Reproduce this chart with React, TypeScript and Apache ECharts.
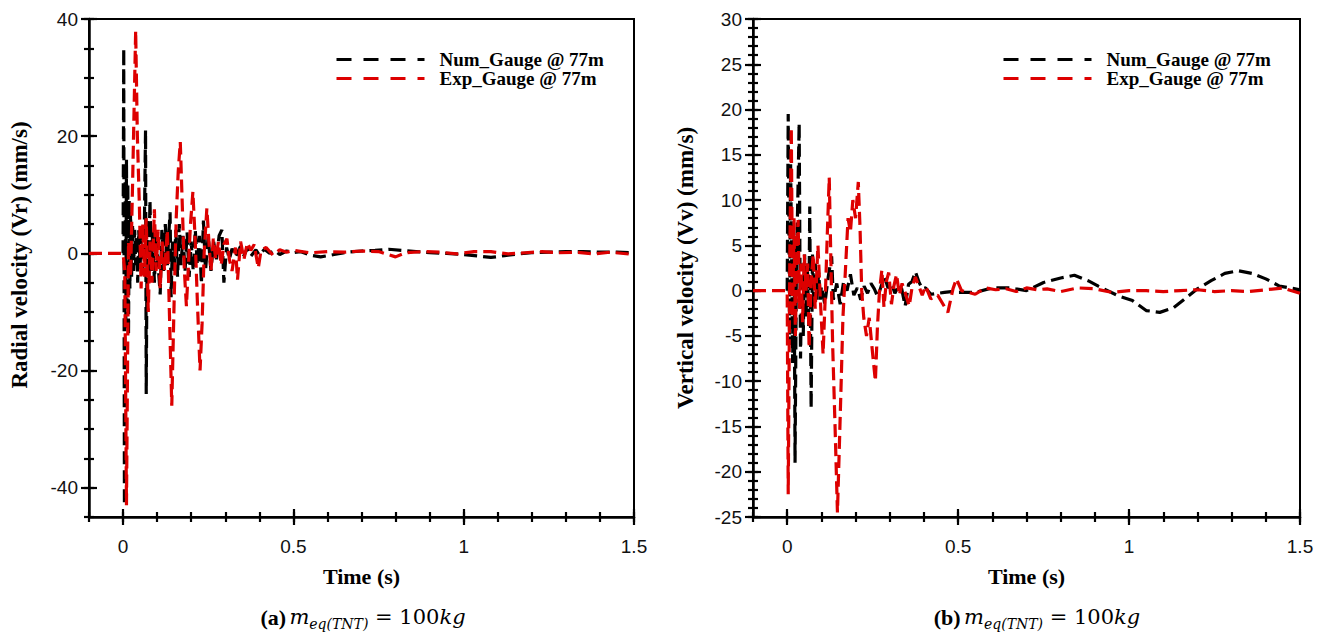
import React, { useEffect, useRef } from "react";
import * as echarts from "echarts";

// ---------- data ----------
const legendNames = ["Num_Gauge @ 77m", "Exp_Gauge @ 77m"];
const xMajorTicks = [0, 0.5, 1, 1.5];
const yMajorTicksA = [-40, -20, 0, 20, 40];
const rightBorderTickB = [0];

// (a) radial velocity, numerical
const numTimeA = [0.0, 0.002, 0.004, 0.006, 0.008, 0.01, 0.012, 0.014, 0.016, 0.018, 0.02, 0.022, 0.025, 0.028, 0.031, 0.034, 0.037, 0.04, 0.043, 0.046, 0.05, 0.054, 0.058, 0.062, 0.066, 0.068, 0.071, 0.075, 0.079, 0.083, 0.087, 0.092, 0.097, 0.103, 0.109, 0.114, 0.119, 0.124, 0.13, 0.134, 0.138, 0.141, 0.145, 0.15, 0.155, 0.16, 0.165, 0.17, 0.176, 0.182, 0.188, 0.194, 0.2, 0.206, 0.212, 0.218, 0.224, 0.23, 0.236, 0.242, 0.25, 0.258, 0.266, 0.274, 0.282, 0.29, 0.296, 0.304, 0.312, 0.32, 0.33, 0.345, 0.355, 0.365, 0.375, 0.39, 0.4, 0.415, 0.43, 0.445, 0.46, 0.48, 0.5, 0.52, 0.55, 0.58, 0.62, 0.66, 0.7, 0.74, 0.78, 0.82, 0.86, 0.9, 0.95, 1.0, 1.05, 1.08, 1.12, 1.16, 1.2, 1.25, 1.3, 1.35, 1.4, 1.45, 1.5];
const numVelA = [0, 35, -43, 14, -13, 16, -9, 12, -14, 9, -6, 7, -4, 5, -3, 4, -2, 3, -5, 4, -2, 3, -3, 2, 21, -24, 6, -4, 9, -3, 4, -5, 3, -2, -7, 4, -3, 5, -2, 3, 7, -7.5, 2, -3, 4, -4, 5, -2, 3, -3, 3.6, -4, 2, -3, 4, -2, 3, -5.2, 5.6, -3, 3, -3, 2, -1, 3, 4, -5, 1, -1, 0.8, -0.6, 1.2, -0.4, 0.9, -0.5, 0.6, -0.3, 0.7, 0, 0.5, -0.2, 0.4, 0.1, 0.3, -0.3, -0.6, -0.2, 0.2, 0.4, 0.5, 0.7, 0.5, 0.3, 0.1, 0, -0.2, -0.5, -0.7, -0.4, -0.1, 0.1, 0.2, 0.3, 0.3, 0.2, 0.2, 0.1];

// (a) radial velocity, experimental
const expTimeA = [-0.1, 0.0, 0.005, 0.01, 0.016, 0.022, 0.028, 0.037, 0.042, 0.048, 0.053, 0.058, 0.063, 0.068, 0.074, 0.079, 0.085, 0.092, 0.097, 0.103, 0.109, 0.115, 0.122, 0.13, 0.136, 0.143, 0.15, 0.156, 0.162, 0.168, 0.174, 0.18, 0.186, 0.192, 0.198, 0.205, 0.212, 0.218, 0.226, 0.232, 0.238, 0.246, 0.252, 0.258, 0.265, 0.272, 0.28, 0.288, 0.296, 0.305, 0.312, 0.32, 0.33, 0.336, 0.345, 0.355, 0.365, 0.375, 0.385, 0.397, 0.405, 0.42, 0.44, 0.46, 0.48, 0.5, 0.55, 0.6, 0.65, 0.7, 0.75, 0.8, 0.83, 0.88, 0.93, 0.98, 1.03, 1.08, 1.13, 1.18, 1.23, 1.28, 1.33, 1.38, 1.43, 1.5];
const expVelA = [0, 0, -3, -43, 2, -4, 12, 38, 20, 8, -6, 5, -4, 6, -10, 2, -5, 7.5, -3, 4, -6, 2, -3, 4, -10, -26, -8, 6, 14, 19, 8, -3, -9, -2, 5, 10.5, 2, -8, -20, -12, 0, 7.7, 2, -3, 2.5, -1, 2, -2, 1.5, 2.5, -1, -3, 1, -4.5, 2, -1, 1.8, 0.5, 1.5, -2.5, 0.5, 1, -0.3, 0.6, 0.2, 0.5, 0.1, 0.3, 0.2, 0.4, 0.3, -0.6, 0.1, 0.3, 0.2, -0.1, 0.3, 0.3, -0.1, 0.1, 0.3, 0.1, 0.2, -0.1, 0.2, -0.2];

// (b) vertical velocity, numerical
const numTimeB = [0.0, 0.003, 0.007, 0.01, 0.013, 0.016, 0.02, 0.023, 0.027, 0.031, 0.035, 0.039, 0.043, 0.047, 0.051, 0.055, 0.059, 0.063, 0.066, 0.07, 0.074, 0.078, 0.082, 0.087, 0.092, 0.097, 0.1, 0.11, 0.12, 0.13, 0.135, 0.145, 0.155, 0.165, 0.175, 0.185, 0.195, 0.205, 0.215, 0.225, 0.235, 0.245, 0.255, 0.265, 0.275, 0.285, 0.295, 0.305, 0.315, 0.325, 0.335, 0.345, 0.355, 0.365, 0.375, 0.385, 0.395, 0.405, 0.42, 0.44, 0.46, 0.48, 0.5, 0.55, 0.6, 0.65, 0.7, 0.75, 0.8, 0.84, 0.88, 0.91, 0.97, 1.01, 1.05, 1.09, 1.13, 1.17, 1.2, 1.24, 1.28, 1.32, 1.36, 1.4, 1.44, 1.5];
const numVelB = [0, 19.5, -6, 14, 4, -8, 6, -19, 3, 10, 18.5, -7.5, 3, -5, 4, -3, 3, -4, 9.3, -13, 4, -2, 3, -1, 2, -1, 0.5, -1.5, 1.5, 3.8, -1, 0.8, -1.5, 1, 0, 1.8, -0.5, 0.3, -1, 0.5, -0.3, 0.8, 0.2, -0.7, 0.5, 1.5, 0.3, 0.8, -0.3, 0.5, 0.2, -1.7, 0.7, 1, 2.1, 1, 0.2, 0.3, -0.4, -0.3, -0.2, -0.1, -0.2, -0.2, 0.3, 0.3, 0, 0.9, 1.4, 1.7, 1.1, 0.5, -0.6, -1.1, -2.2, -2.4, -1.9, -0.7, 0.2, 1.1, 1.9, 2.2, 1.9, 1.3, 0.5, 0.1];

// (b) vertical velocity, experimental
const expTimeB = [-0.1, 0.0, 0.003, 0.008, 0.012, 0.016, 0.02, 0.024, 0.028, 0.032, 0.036, 0.04, 0.045, 0.05, 0.055, 0.06, 0.064, 0.07, 0.076, 0.082, 0.09, 0.097, 0.105, 0.112, 0.118, 0.123, 0.128, 0.133, 0.14, 0.147, 0.152, 0.158, 0.163, 0.17, 0.178, 0.185, 0.192, 0.2, 0.208, 0.213, 0.218, 0.224, 0.232, 0.24, 0.25, 0.258, 0.264, 0.27, 0.277, 0.283, 0.29, 0.297, 0.305, 0.312, 0.32, 0.328, 0.336, 0.345, 0.357, 0.365, 0.375, 0.385, 0.395, 0.405, 0.42, 0.44, 0.47, 0.485, 0.495, 0.51, 0.55, 0.58, 0.61, 0.64, 0.67, 0.7, 0.73, 0.76, 0.8, 0.85, 0.9, 0.95, 1.0, 1.05, 1.1, 1.15, 1.2, 1.25, 1.3, 1.35, 1.4, 1.45, 1.5];
const expVelB = [0, 0, -22.5, 5, 18, -3, 8, -5, 4, 7.8, -2, 3, -3.5, 4, 0, 3, -6.3, 1, 4, -2, 5, -1, -7, 0, 7, 12.5, 3, -6, -15, -24.5, -18, -10, -3, 2, 8, 6.5, 10, 8, 12, 7, 0, -3, -5, -3, -7, -10, -4, 0, 2.3, -1.8, 1, 2, -1.5, 0.5, 1.8, -0.5, 0.8, -0.2, -1.7, 0.3, 1.5, 0.5, -0.5, 0.5, -0.9, -0.5, -2.4, 0.2, 1.3, 0, -0.4, 0.3, 0.1, 0.2, -0.1, 0.3, 0.1, 0.2, -0.1, 0.3, 0.2, -0.2, 0, 0, -0.1, 0, 0.1, -0.1, 0, -0.1, 0.1, 0.3, -0.3];

// ---------- helpers ----------
const zip = (ts: number[], vs: number[]) => ts.map((t, i) => [t, vs[i]]);

const BLACK = "#000000";
const RED = "#dd0000";
const MAJOR_LEN = 8;
const MINOR_LEN = 5;
const tick = () => ({ color: "#000", width: 2.2 });
const labelFont = { fontFamily: "Liberation Sans", fontSize: 19, color: "#111" };
const titleFont = { fontFamily: "Liberation Serif", fontWeight: "bold" as const, color: "#000" };

function makeXAxes(gridIndex: number) {
  const base = () => ({ type: "value", gridIndex, min: -0.1, max: 1.5, interval: 0.1, position: "bottom", splitLine: { show: false } });
  return [
    {
      ...base(),
      axisLine: { show: true, onZero: false, lineStyle: { color: "#000", width: 2.5 } },
      axisTick: { show: true, customValues: xMajorTicks, length: MAJOR_LEN, inside: false, lineStyle: tick() },
      axisLabel: { show: true, customValues: xMajorTicks, margin: 20, ...labelFont },
      name: "Time (s)",
      nameLocation: "middle",
      nameGap: 48,
      nameTextStyle: { ...titleFont, fontSize: 22 },
    },
    { ...base(), axisLine: { show: false, onZero: false }, axisTick: { show: true, customValues: xMajorTicks, length: MAJOR_LEN, inside: true, lineStyle: tick() }, axisLabel: { show: false } },
    { ...base(), axisLine: { show: false, onZero: false }, axisTick: { show: true, length: MINOR_LEN, inside: false, lineStyle: tick() }, axisLabel: { show: false } },
    { ...base(), axisLine: { show: false, onZero: false }, axisTick: { show: true, length: MINOR_LEN, inside: true, lineStyle: tick() }, axisLabel: { show: false } },
  ];
}

function makeYAxes(
  gridIndex: number,
  min: number,
  max: number,
  majorValues: number[] | null,
  majorInterval: number,
  minorInterval: number,
  name: string,
  nameGap: number,
  namePadding: number[]
) {
  const base = () => ({ type: "value", gridIndex, min, max, position: "left", splitLine: { show: false } });
  const majorTick = majorValues ? { customValues: majorValues } : {};
  const majorLabel = majorValues ? { customValues: majorValues } : {};
  return [
    {
      ...base(),
      interval: majorValues ? minorInterval : majorInterval,
      axisLine: { show: true, onZero: false, lineStyle: { color: "#000", width: 2.5 } },
      axisTick: { show: true, ...majorTick, length: MAJOR_LEN, inside: false, lineStyle: tick() },
      axisLabel: { show: true, ...majorLabel, margin: 11, ...labelFont },
      name,
      nameLocation: "middle",
      nameGap,
      nameTextStyle: { ...titleFont, fontSize: 23, padding: namePadding },
    },
    { ...base(), interval: majorValues ? minorInterval : majorInterval, axisLine: { show: false, onZero: false }, axisTick: { show: true, ...majorTick, length: MAJOR_LEN, inside: true, lineStyle: tick() }, axisLabel: { show: false } },
    { ...base(), interval: minorInterval, axisLine: { show: false, onZero: false }, axisTick: { show: true, length: MINOR_LEN, inside: false, lineStyle: tick() }, axisLabel: { show: false } },
    { ...base(), interval: minorInterval, axisLine: { show: false, onZero: false }, axisTick: { show: true, length: MINOR_LEN, inside: true, lineStyle: tick() }, axisLabel: { show: false } },
  ];
}

function makeSeries(name: string, color: string, xi: number, yi: number, data: number[][]) {
  return {
    type: "line",
    name,
    xAxisIndex: xi,
    yAxisIndex: yi,
    data,
    symbol: "none",
    clip: true,
    lineStyle: { color, width: 3.2, type: [13, 6] },
    itemStyle: { color },
  };
}

function makeLegend(left: number) {
  return {
    left,
    top: 50,
    orient: "vertical",
    padding: 0,
    itemGap: 0,
    itemWidth: 88,
    itemHeight: 12,
    data: legendNames,
    selectedMode: false,
    itemStyle: { opacity: 0, borderWidth: 0 },
    lineStyle: { width: 3, type: [15, 12] },
    textStyle: {
      fontFamily: "Liberation Serif",
      fontWeight: "bold",
      fontSize: 19,
      lineHeight: 19,
      color: "#000",
      padding: [0, 0, 0, 10],
    },
  };
}

const captionRich = {
  b: { fontFamily: "Liberation Serif", fontWeight: "bold", fontSize: 22, lineHeight: 28, verticalAlign: "middle", color: "#000" },
  m: { fontFamily: "DejaVu Serif", fontStyle: "italic", fontSize: 21, lineHeight: 28, verticalAlign: "middle", color: "#000" },
  s: { fontFamily: "DejaVu Serif", fontStyle: "italic", fontSize: 14, lineHeight: 14, verticalAlign: "bottom", color: "#000" },
  r: { fontFamily: "DejaVu Serif", fontSize: 21, lineHeight: 28, verticalAlign: "middle", color: "#000" },
};

function caption(letter: string, x: number) {
  return {
    type: "text",
    x,
    y: 617,
    style: {
      text: `{b|(${letter})} {m|m}{s|eq(TNT)}{r| = 100}{m|kg}`,
      align: "center",
      verticalAlign: "middle",
      rich: captionRich,
    },
  };
}

export default function App() {
  const ref = useRef<HTMLDivElement>(null);

  useEffect(() => {
    if (!ref.current) return;
    const chart = echarts.init(ref.current, null, { renderer: "svg" });
    const option = {
      animation: false,
      backgroundColor: "#ffffff",
      grid: [
        { left: 89, top: 19, width: 545, height: 498, show: true, borderColor: "#000", borderWidth: 2 },
        { left: 753, top: 19, width: 547, height: 498, show: true, borderColor: "#000", borderWidth: 2 },
      ],
      xAxis: [...makeXAxes(0), ...makeXAxes(1)],
      yAxis: [
        ...makeYAxes(0, -45, 40, yMajorTicksA, 20, 5, "Radial velocity (Vr) (mm/s)", 58, [0, 0, 0, 26]),
        ...makeYAxes(1, -25, 30, null, 5, 1, "Vertical velocity (Vv) (mm/s)", 56, [0, 0, 0, 0]),
        {
          type: "value",
          gridIndex: 1,
          min: -25,
          max: 30,
          position: "right",
          splitLine: { show: false },
          axisLine: { show: false, onZero: false },
          axisTick: { show: true, customValues: rightBorderTickB, length: 6, inside: true, lineStyle: tick() },
          axisLabel: { show: false },
        },
      ],
      legend: [makeLegend(335), makeLegend(1002)],
      series: [
        makeSeries(legendNames[0], BLACK, 0, 0, zip(numTimeA, numVelA)),
        makeSeries(legendNames[1], RED, 0, 0, zip(expTimeA, expVelA)),
        makeSeries(legendNames[0], BLACK, 4, 4, zip(numTimeB, numVelB)),
        makeSeries(legendNames[1], RED, 4, 4, zip(expTimeB, expVelB)),
      ],
      graphic: [caption("a", 363), caption("b", 1037)],
    };
    chart.setOption(option as any);
    return () => chart.dispose();
  }, []);

  return (
    <div
      ref={ref}
      style={{ position: "absolute", left: 0, top: 0, width: 1324, height: 634, background: "#fff" }}
    />
  );
}
